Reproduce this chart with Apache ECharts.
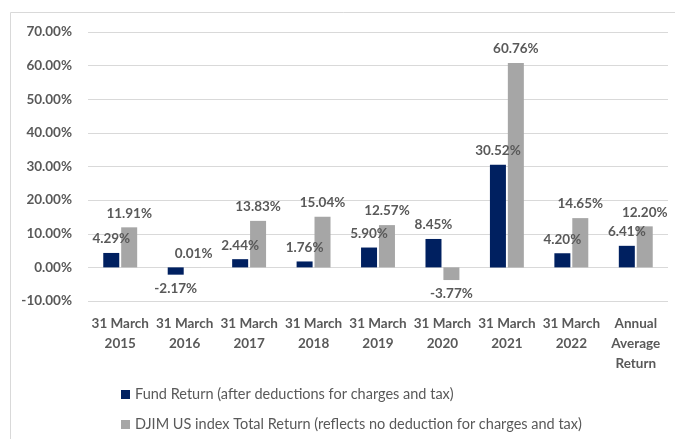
<!DOCTYPE html>
<html>
<head>
<meta charset="utf-8">
<script src="https://cdn.jsdelivr.net/npm/echarts@6/dist/echarts.min.js"></script>
<style>
  html, body { margin: 0; padding: 0; background: #fff; }
  #chart { width: 675px; height: 439px; }
</style>
</head>
<body>
<div id="chart"></div>
<script>
// 数据
const categories = [
  "31 March\n2015", "31 March\n2016", "31 March\n2017", "31 March\n2018",
  "31 March\n2019", "31 March\n2020", "31 March\n2021", "31 March\n2022",
  "Annual\nAverage\nReturn"
]
const fundReturn = [4.29, -2.17, 2.44, 1.76, 5.90, 8.45, 30.52, 4.20, 6.41]
const indexReturn = [11.91, 0.01, 13.83, 15.04, 12.57, -3.77, 60.76, 14.65, 12.20]
const seriesNames = [
  "Fund Return (after deductions for charges and tax)",
  "DJIM US index Total Return (reflects no deduction for charges and tax)"
]

const font = "Lato, 'Open Sans', sans-serif"
const textColor = "#595959"

// 负值的标签放在柱子下方
const withLabelPos = (arr) => arr.map(v => ({
  value: v,
  label: { position: v < 0 ? "bottom" : "top" }
}))

const labelStyle = {
  show: true,
  distance: 7,
  color: textColor,
  fontFamily: font,
  fontWeight: "bold",
  fontSize: 13.5,
  formatter: (p) => p.value.toFixed(2) + "%"
}

const chart = echarts.init(document.getElementById("chart"))

const option = {
  animation: false,
  textStyle: { fontFamily: font },
  graphic: [{
    type: "rect",
    shape: { x: 10.5, y: 12.5, width: 700, height: 460 },
    style: { fill: "none", stroke: "#d9d9d9", lineWidth: 1 },
    silent: true
  }],
  legend: {
    orient: "vertical",
    left: 121,
    top: 387,
    height: 100,
    itemWidth: 9,
    itemHeight: 9,
    itemGap: 15,
    icon: "rect",
    padding: 0,
    textStyle: { color: textColor, fontSize: 14.5, fontFamily: font },
    data: seriesNames
  },
  grid: {
    left: 88,
    right: 7,
    top: 32,
    bottom: 138
  },
  xAxis: {
    type: "category",
    data: categories,
    axisLine: { show: false },
    axisTick: { show: false },
    axisLabel: {
      interval: 0,
      margin: 13,
      lineHeight: 20,
      color: textColor,
      fontFamily: font,
      fontWeight: "bold",
      fontSize: 13.5
    }
  },
  yAxis: {
    type: "value",
    min: -10,
    max: 70,
    interval: 10,
    axisLine: { show: false },
    axisTick: { show: false },
    splitLine: { lineStyle: { color: "#d9d9d9", width: 1 } },
    axisLabel: {
      margin: 16,
      color: textColor,
      fontFamily: font,
      fontWeight: "bold",
      fontSize: 13.5,
      formatter: (v) => v.toFixed(2) + "%"
    }
  },
  series: [
    {
      name: seriesNames[0],
      type: "bar",
      barWidth: 16,
      barGap: "12%",
      itemStyle: { color: "#002060" },
      label: labelStyle,
      data: withLabelPos(fundReturn)
    },
    {
      name: seriesNames[1],
      type: "bar",
      barWidth: 16,
      barGap: "12%",
      itemStyle: { color: "#a6a6a6" },
      label: labelStyle,
      data: withLabelPos(indexReturn)
    }
  ]
}

chart.setOption(option)
</script>
</body>
</html>
